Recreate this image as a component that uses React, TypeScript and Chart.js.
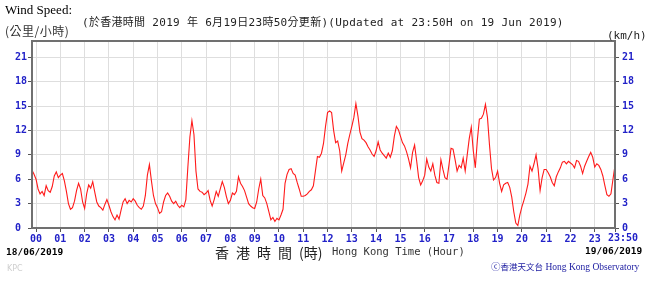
import React, { useEffect, useRef } from "react";
import { Chart, registerables } from "chart.js";

Chart.register(...registerables);

// ---- data (km/h, 5-minute samples from 23:50 on 18/06 to 23:50 on 19/06) ----
const START_MINUTE = -10;
const STEP_MINUTES = 5;

const windSpeed: number[] = [
  7.1, 6.6,
  6.0, 4.8, 4.2, 4.5, 4.0, 5.2, 4.6, 4.4, 5.1, 6.4, 6.9, 6.2,
  6.5, 6.7, 5.8, 4.5, 3.0, 2.3, 2.5, 3.3, 4.6, 5.5, 4.8, 3.2,
  2.4, 4.2, 5.3, 4.9, 5.7, 4.4, 3.2, 2.7, 2.5, 2.2, 2.9, 3.5,
  2.8, 2.0, 1.4, 1.0, 1.6, 1.1, 2.2, 3.2, 3.6, 3.0, 3.4, 3.2,
  3.6, 3.3, 2.8, 2.5, 2.3, 2.7, 4.0, 6.5, 7.8, 5.8, 4.0, 3.0,
  2.5, 1.8, 2.0, 3.2, 4.0, 4.3, 3.9, 3.3, 3.0, 3.3, 2.8, 2.5,
  2.8, 2.6, 3.5, 7.5, 11.2, 13.2, 11.5, 7.0, 4.8, 4.5, 4.4, 4.1,
  4.3, 4.6, 3.4, 2.7, 3.5, 4.5, 3.9, 4.8, 5.7, 5.0, 3.9, 3.0,
  3.4, 4.3, 4.1, 4.5, 6.3, 5.5, 5.1, 4.6, 3.8, 3.0, 2.7, 2.5,
  2.4, 3.2, 4.8, 6.0, 4.0, 3.7, 3.0, 2.0, 1.0, 1.3, 0.8, 1.2,
  1.0, 1.6, 2.3, 5.5, 6.6, 7.2, 7.3, 6.7, 6.5, 5.6, 4.8, 3.9,
  3.9, 4.0, 4.2, 4.5, 4.7, 5.2, 7.0, 8.8, 8.7, 9.2, 10.4, 12.5,
  14.2, 14.4, 14.2, 12.0, 10.5, 10.7, 9.5, 7.0, 8.0, 9.0, 10.4, 11.5,
  12.5, 13.6, 15.3, 13.8, 11.8, 11.0, 10.8, 10.5, 10.0, 9.6, 9.1, 8.8,
  9.5, 10.6, 9.6, 9.2, 8.9, 8.6, 9.2, 8.7, 9.5, 11.3, 12.5, 12.1,
  11.3, 10.5, 10.1, 9.4, 8.5, 7.4, 9.3, 10.2, 8.3, 6.2, 5.3, 5.8,
  6.5, 8.5, 7.5, 7.0, 7.9, 6.5, 5.6, 5.5, 8.4, 7.2, 6.2, 6.0,
  7.8, 9.8, 9.7, 8.4, 7.0, 7.7, 7.4, 8.6, 7.0, 9.0, 11.0, 12.4,
  9.5, 7.4, 10.8, 13.4, 13.5, 14.0, 15.2, 13.6, 10.2, 7.3, 5.9, 6.2,
  7.0, 5.5, 4.5, 5.3, 5.5, 5.6, 5.0, 3.8, 2.0, 0.6, 0.3, 1.6,
  2.6, 3.4, 4.3, 5.4, 7.6, 7.0, 7.9, 9.0, 7.3, 4.6, 6.2, 7.2,
  7.2, 6.8, 6.3, 5.6, 5.2, 6.3, 6.9, 7.4, 8.1, 8.2, 7.9, 8.2,
  8.0, 7.8, 7.4, 8.3, 8.2, 7.6, 6.7, 7.6, 8.2, 8.8, 9.3, 8.7,
  7.5, 7.9, 7.7, 7.2, 6.4, 5.2, 4.1, 3.9, 4.2, 6.0, 7.7,
];

const hourTicks: number[] = [
  0, 60, 120, 180, 240, 300, 360, 420, 480, 540, 600, 660,
  720, 780, 840, 900, 960, 1020, 1080, 1140, 1200, 1260, 1320, 1380,
];
const hourLabels: string[] = [
  "00", "01", "02", "03", "04", "05", "06", "07", "08", "09", "10", "11",
  "12", "13", "14", "15", "16", "17", "18", "19", "20", "21", "22", "23",
];
const END_MINUTE = 1430;
const endLabel = "23:50";

const yTicks: number[] = [0, 3, 6, 9, 12, 15, 18, 21];
const Y_MAX = 23;

const TICK_BLUE = "#2222c8";
const MONO = "'DejaVu Sans Mono', 'Noto Sans CJK TC', monospace";

const framePlugin = {
  id: "frame",
  afterDraw(chart: any) {
    const { ctx, chartArea } = chart;
    ctx.save();
    ctx.strokeStyle = "#707070";
    ctx.lineWidth = 2;
    ctx.strokeRect(chartArea.left, chartArea.top, chartArea.right - chartArea.left, chartArea.bottom - chartArea.top);
    ctx.restore();
  },
};

function Txt(props: { left: number; cy: number; size: number; style?: React.CSSProperties; children: React.ReactNode }) {
  const { left, cy, size, style, children } = props;
  return (
    <div
      style={{
        position: "absolute",
        left,
        top: cy - size / 2,
        fontSize: size,
        lineHeight: size + "px",
        whiteSpace: "nowrap",
        ...style,
      }}
    >
      {children}
    </div>
  );
}

export default function App() {
  const ref = useRef<HTMLCanvasElement | null>(null);

  useEffect(() => {
    if (!ref.current) return;
    const tickFont = { family: "'DejaVu Sans Mono', monospace", size: 10, weight: "bold" as const };
    const yTickBuild = (s: any) => {
      s.ticks = yTicks.map((v) => ({ value: v }));
    };
    const chart = new Chart(ref.current, {
      type: "line",
      data: {
        datasets: [
          {
            data: windSpeed.map((v, i) => ({ x: START_MINUTE + i * STEP_MINUTES, y: v })),
            borderColor: "#ff1a1a",
            borderWidth: 1.1,
            pointRadius: 0,
            tension: 0,
            fill: false,
            yAxisID: "y",
          },
        ],
      },
      options: {
        animation: false,
        responsive: false,
        devicePixelRatio: 1,
        plugins: { legend: { display: false }, tooltip: { enabled: false } },
        layout: { padding: { top: 41, left: 15, right: 15, bottom: 41 } },
        scales: {
          x: {
            type: "linear",
            min: START_MINUTE,
            max: END_MINUTE,
            afterBuildTicks: (s: any) => {
              s.ticks = [...hourTicks, END_MINUTE].map((v) => ({ value: v }));
            },
            afterFit: (s: any) => {
              s.height = 20;
            },
            grid: { color: "#dedede", lineWidth: 1, tickLength: 4, tickColor: "#555" },
            border: { display: false },
            ticks: {
              autoSkip: false,
              maxRotation: 0,
              padding: 1,
              color: TICK_BLUE,
              font: tickFont,
              callback: (v: any) => {
                const i = hourTicks.indexOf(Number(v));
                return i >= 0 ? hourLabels[i] : "";
              },
            },
          },
          y: {
            position: "left",
            min: 0,
            max: Y_MAX,
            afterBuildTicks: yTickBuild,
            afterFit: (s: any) => {
              s.width = 17;
            },
            grid: { color: "#dedede", lineWidth: 1, tickLength: 4, tickColor: "#555" },
            border: { display: false },
            ticks: { crossAlign: "far", padding: 3, color: TICK_BLUE, font: tickFont },
          },
          y2: {
            position: "right",
            display: true,
            min: 0,
            max: Y_MAX,
            afterBuildTicks: yTickBuild,
            afterFit: (s: any) => {
              s.width = 20;
            },
            grid: { drawOnChartArea: false, tickLength: 4, tickColor: "#555" },
            border: { display: false },
            ticks: { padding: 3, color: TICK_BLUE, font: tickFont },
          },
        },
      } as any,
      plugins: [framePlugin],
    });
    return () => chart.destroy();
  }, []);

  return (
    <div style={{ position: "fixed", left: 0, top: 0, width: 650, height: 289, overflow: "hidden", background: "#fff" }}>
      <canvas ref={ref} width={650} height={289} style={{ position: "absolute", left: 0, top: 0, width: 650, height: 289 }} />
      <Txt left={5} cy={9} size={13} style={{ fontFamily: "'Liberation Serif', serif", color: "#000" }}>
        Wind Speed:
      </Txt>
      <Txt left={5} cy={31} size={12} style={{ fontFamily: "'Noto Sans CJK TC', sans-serif", color: "#333", letterSpacing: 0.5 }}>
        (公里/小時)
      </Txt>
      <Txt left={82} cy={22} size={11} style={{ fontFamily: MONO, color: "#222", letterSpacing: 0.3 }}>
        (於香港時間 2019 年 6月19日23時50分更新)(Updated at 23:50H on 19 Jun 2019)
      </Txt>
      <Txt left={607} cy={35} size={11} style={{ fontFamily: MONO, color: "#222" }}>
        (km/h)
      </Txt>
      <Txt left={608} cy={238} size={10} style={{ fontFamily: "'DejaVu Sans Mono', monospace", fontWeight: "bold", color: TICK_BLUE }}>
        {endLabel}
      </Txt>
      <Txt left={6} cy={252} size={9.5} style={{ fontFamily: "'DejaVu Sans Mono', monospace", fontWeight: "bold", color: "#000" }}>
        18/06/2019
      </Txt>
      <Txt left={215} cy={252} size={14} style={{ fontFamily: "'Noto Sans CJK TC', sans-serif", color: "#222" }}>
        <span style={{ letterSpacing: 7 }}>香港時間</span>
        <span>(時)</span>
      </Txt>
      <Txt left={332} cy={251} size={10.5} style={{ fontFamily: "'DejaVu Sans Mono', monospace", color: "#333" }}>
        Hong Kong Time (Hour)
      </Txt>
      <Txt left={585} cy={251} size={9.5} style={{ fontFamily: "'DejaVu Sans Mono', monospace", fontWeight: "bold", color: "#000" }}>
        19/06/2019
      </Txt>
      <Txt left={491} cy={268} size={9.5} style={{ fontFamily: "'Liberation Serif', 'Noto Sans CJK TC', serif", color: "#1a1aa0" }}>
        <span>ⓒ</span>
        <span style={{ fontSize: 8.5 }}>香港天文台</span>
        <span> Hong Kong Observatory</span>
      </Txt>
      <Txt left={7} cy={269} size={8} style={{ fontFamily: "'DejaVu Sans', sans-serif", color: "#cfcfcf" }}>
        KPC
      </Txt>
    </div>
  );
}
